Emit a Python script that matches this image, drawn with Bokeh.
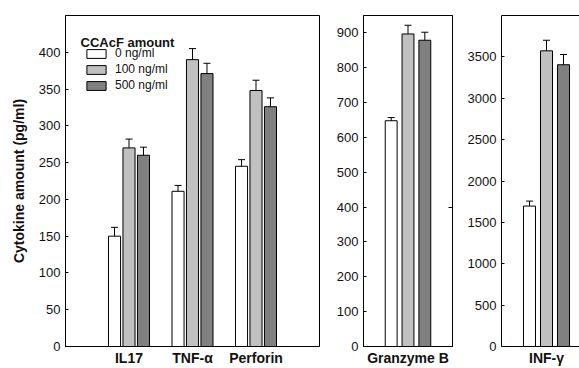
from bokeh.plotting import figure
from bokeh.layouts import row
from bokeh.models import (Range1d, FixedTicker, Whisker, TeeHead, ColumnDataSource,
                          Legend, LegendItem, Label, LinearAxis)
from bokeh.embed import file_html
from bokeh.resources import INLINE

# ---------------- data ----------------
series_labels = ["0 ng/ml", "100 ng/ml", "500 ng/ml"]
series_colors = ["#ffffff", "#c0c0c0", "#808080"]

left_cats = ["IL17", "TNF-α", "Perforin"]
left_0 = [150, 211, 245]
left_0_err = [12, 8, 9]
left_100 = [270, 390, 348]
left_100_err = [12, 15, 14]
left_500 = [260, 371, 326]
left_500_err = [11, 14, 12]
left_ticks = [0, 50, 100, 150, 200, 250, 300, 350, 400]

gzb_cats = ["Granzyme B"]
gzb_0 = [648]
gzb_0_err = [9]
gzb_100 = [897]
gzb_100_err = [25]
gzb_500 = [879]
gzb_500_err = [23]
gzb_ticks = [0, 100, 200, 300, 400, 500, 600, 700, 800, 900]

inf_cats = ["INF-γ"]
inf_0 = [1697]
inf_0_err = [60]
inf_100 = [3573]
inf_100_err = [128]
inf_500 = [3405]
inf_500_err = [124]
inf_ticks = [0, 500, 1000, 1500, 2000, 2500, 3000, 3500]

legend_title = "CCAcF amount"
y_title = "Cytokine amount (pg/ml)"

FONT = "Liberation Sans"
TXT = "#111111"
FRAME_H = 334.0


def make_panel(width, bl, br, xr, yr, cats, vals, errs, ticks, off, bw, outline=True):
    p = figure(width=width, height=368, x_range=Range1d(*xr), y_range=Range1d(*yr),
               output_backend="svg", toolbar_location=None,
               min_border_left=bl, min_border_right=br, min_border_top=15,
               min_border_bottom=19)
    p.grid.visible = False
    p.background_fill_color = "white"
    p.border_fill_color = "white"
    p.outline_line_color = "black" if outline else None
    p.outline_line_width = 1

    pos = list(range(1, len(cats) + 1))
    renderers = []
    for i in range(3):
        xs = [g + off[i] for g in pos]
        src = ColumnDataSource(dict(x=xs, top=vals[i], up=[v + e for v, e in zip(vals[i], errs[i])]))
        r = p.vbar(x="x", top="top", width=bw, source=src, fill_color=series_colors[i],
                   line_color="black", line_width=1)
        renderers.append(r)
        w = Whisker(source=src, base="x", lower="top", upper="up", dimension="height",
                    line_color="black", line_width=1, level="overlay",
                    upper_head=TeeHead(size=7, line_color="black", line_width=1),
                    lower_head=None)
        p.add_layout(w)

    # axes
    p.yaxis.ticker = FixedTicker(ticks=ticks)
    p.yaxis.major_tick_in = 3
    p.yaxis.major_tick_out = 0
    p.yaxis.minor_tick_line_color = None
    p.yaxis.major_label_standoff = 5
    p.yaxis.major_label_text_font = FONT
    p.yaxis.major_label_text_font_size = "13px"
    p.yaxis.major_label_text_color = TXT
    p.yaxis.axis_line_color = "black"
    p.yaxis.major_tick_line_color = "black"

    p.xaxis.ticker = FixedTicker(ticks=pos)
    p.xaxis.major_label_overrides = {g: c for g, c in zip(pos, cats)}
    p.xaxis.major_tick_in = 0
    p.xaxis.major_tick_out = 0
    p.xaxis.minor_tick_line_color = None
    p.xaxis.major_label_standoff = 3
    p.xaxis.major_label_text_font = FONT
    p.xaxis.major_label_text_font_style = "bold"
    p.xaxis.major_label_text_font_size = "14px"
    p.xaxis.major_label_text_color = TXT
    p.xaxis.axis_line_color = "black"
    return p, renderers


off_left = [-0.228, 0.0, 0.228]
p1, rs = make_panel(333, 65, 14, (0, 4), (0, 450), left_cats,
                    [left_0, left_100, left_500],
                    [left_0_err, left_100_err, left_500_err],
                    left_ticks, off_left, 0.19)
p1.yaxis.axis_label = y_title
p1.yaxis.axis_label_text_font = FONT
p1.yaxis.axis_label_text_font_style = "bold"
p1.yaxis.axis_label_text_font_size = "14px"
p1.yaxis.axis_label_text_color = TXT
p1.yaxis.axis_label_standoff = 9

legend = Legend(items=[LegendItem(label=series_labels[i], renderers=[rs[i]]) for i in range(3)],
                location=(19, 254), glyph_width=24, glyph_height=11, label_height=11,
                spacing=2, padding=0, margin=0, border_line_color=None,
                background_fill_alpha=0, label_standoff=7,
                label_text_font=FONT, label_text_font_size="12px", label_text_color=TXT)
p1.add_layout(legend)

# legend title as label (frame px -> data)
px_x = 4 / 254.0
px_y = 450 / FRAME_H
p1.add_layout(Label(x=15 * px_x, y=(349 - 42) * px_y, text=legend_title,
                    text_font=FONT, text_font_style="bold", text_font_size="13px",
                    text_color=TXT, text_baseline="alphabetic"))

off_r = [-0.378, 0.0, 0.378]
p2, _ = make_panel(129, 29, 10, (0, 2), (0, 950), gzb_cats,
                   [gzb_0, gzb_100, gzb_500], [gzb_0_err, gzb_100_err, gzb_500_err],
                   gzb_ticks, off_r, 0.267)
rax = LinearAxis(ticker=FixedTicker(ticks=[400]), major_label_overrides={400: ""},
                 major_tick_in=4, major_tick_out=0, minor_tick_line_color=None,
                 axis_line_color="black", major_label_text_font_size="1px")
p2.add_layout(rax, "right")

p3, _ = make_panel(117, 39, 0, (0, 78 / 45.0), (0, 4000), inf_cats,
                   [inf_0, inf_100, inf_500], [inf_0_err, inf_100_err, inf_500_err],
                   inf_ticks, off_r, 0.267, outline=False)
tax = LinearAxis(ticker=FixedTicker(ticks=[]), major_tick_in=0, major_tick_out=0,
                 minor_tick_line_color=None, axis_line_color="black",
                 major_label_text_font_size="1px")
p3.add_layout(tax, "above")

layout = row(p1, p2, p3, spacing=0)
open("out.html", "w").write(file_html(layout, INLINE))
